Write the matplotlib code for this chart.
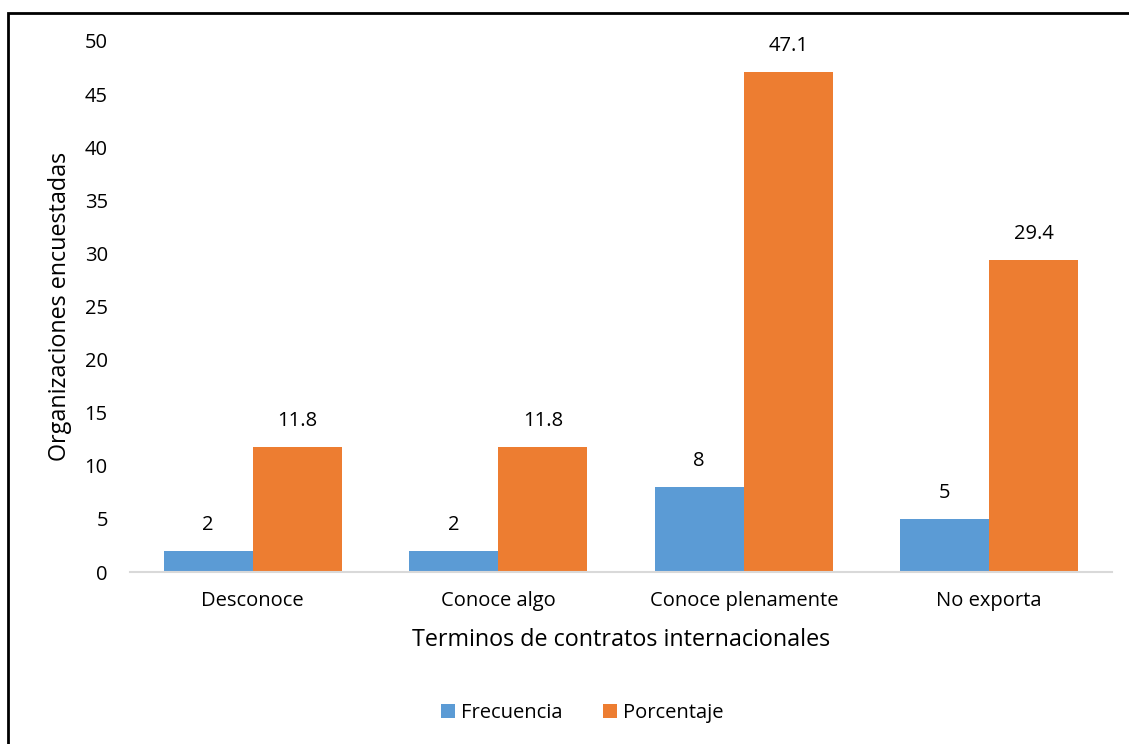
import numpy as np
import matplotlib.pyplot as plt
from matplotlib.patches import Rectangle

plt.rcParams['font.family'] = ['Open Sans', 'DejaVu Sans']

categorias = ["Desconoce", "Conoce algo", "Conoce plenamente", "No exporta"]
frecuencia = [2, 2, 8, 5]
porcentaje = [11.8, 11.8, 47.1, 29.4]

azul = '#5B9BD5'
naranja = '#ED7D31'

fig = plt.figure(figsize=(11.29, 7.44), dpi=100)
ax = fig.add_axes([130/1129, 1-572/744, 982/1129, 531/744])

x = np.arange(len(categorias))
w = 0.363
b1 = ax.bar(x - w/2, frecuencia, w, color=azul, label="Frecuencia")
b2 = ax.bar(x + w/2, porcentaje, w, color=naranja, label="Porcentaje")

for rect, v in zip(b1, frecuencia):
    ax.text(rect.get_x() + rect.get_width()/2, v + 1.5, str(v), ha='center', va='bottom', fontsize=14.5)
for rect, v in zip(b2, porcentaje):
    ax.text(rect.get_x() + rect.get_width()/2, v + 1.5, f"{v:.1f}", ha='center', va='bottom', fontsize=14.5)

ax.set_xlim(-0.5, 3.5)
ax.set_ylim(0, 50)
ax.set_yticks(range(0, 51, 5))
ax.set_xticks(x)
ax.set_xticklabels(categorias)
ax.tick_params(axis='both', length=0, labelsize=14.5)
ax.tick_params(axis='x', pad=14)
ax.tick_params(axis='y', pad=16)
for s in ['top', 'right', 'left']:
    ax.spines[s].set_visible(False)
ax.spines['bottom'].set_color('#D9D9D9')
ax.spines['bottom'].set_linewidth(1.5)

ax.set_xlabel("Terminos de contratos internacionales", fontsize=16.8, labelpad=12)
ax.set_ylabel("Organizaciones encuestadas", fontsize=16.8)
ax.yaxis.set_label_coords(-58/982, 0.5)

fig.legend(handles=[b1, b2], loc='center', bbox_to_anchor=(582/1129, 1-713/744),
           ncol=2, frameon=False, fontsize=14.5, handlelength=0.7, handleheight=0.7,
           columnspacing=2.0, handletextpad=0.3)

fig.add_artist(Rectangle((8/1129, -0.1), 1.2, 0.1 + 1-13/744, transform=fig.transFigure,
                         fill=False, edgecolor='black', linewidth=2))

fig.savefig("out.png", dpi=100)
